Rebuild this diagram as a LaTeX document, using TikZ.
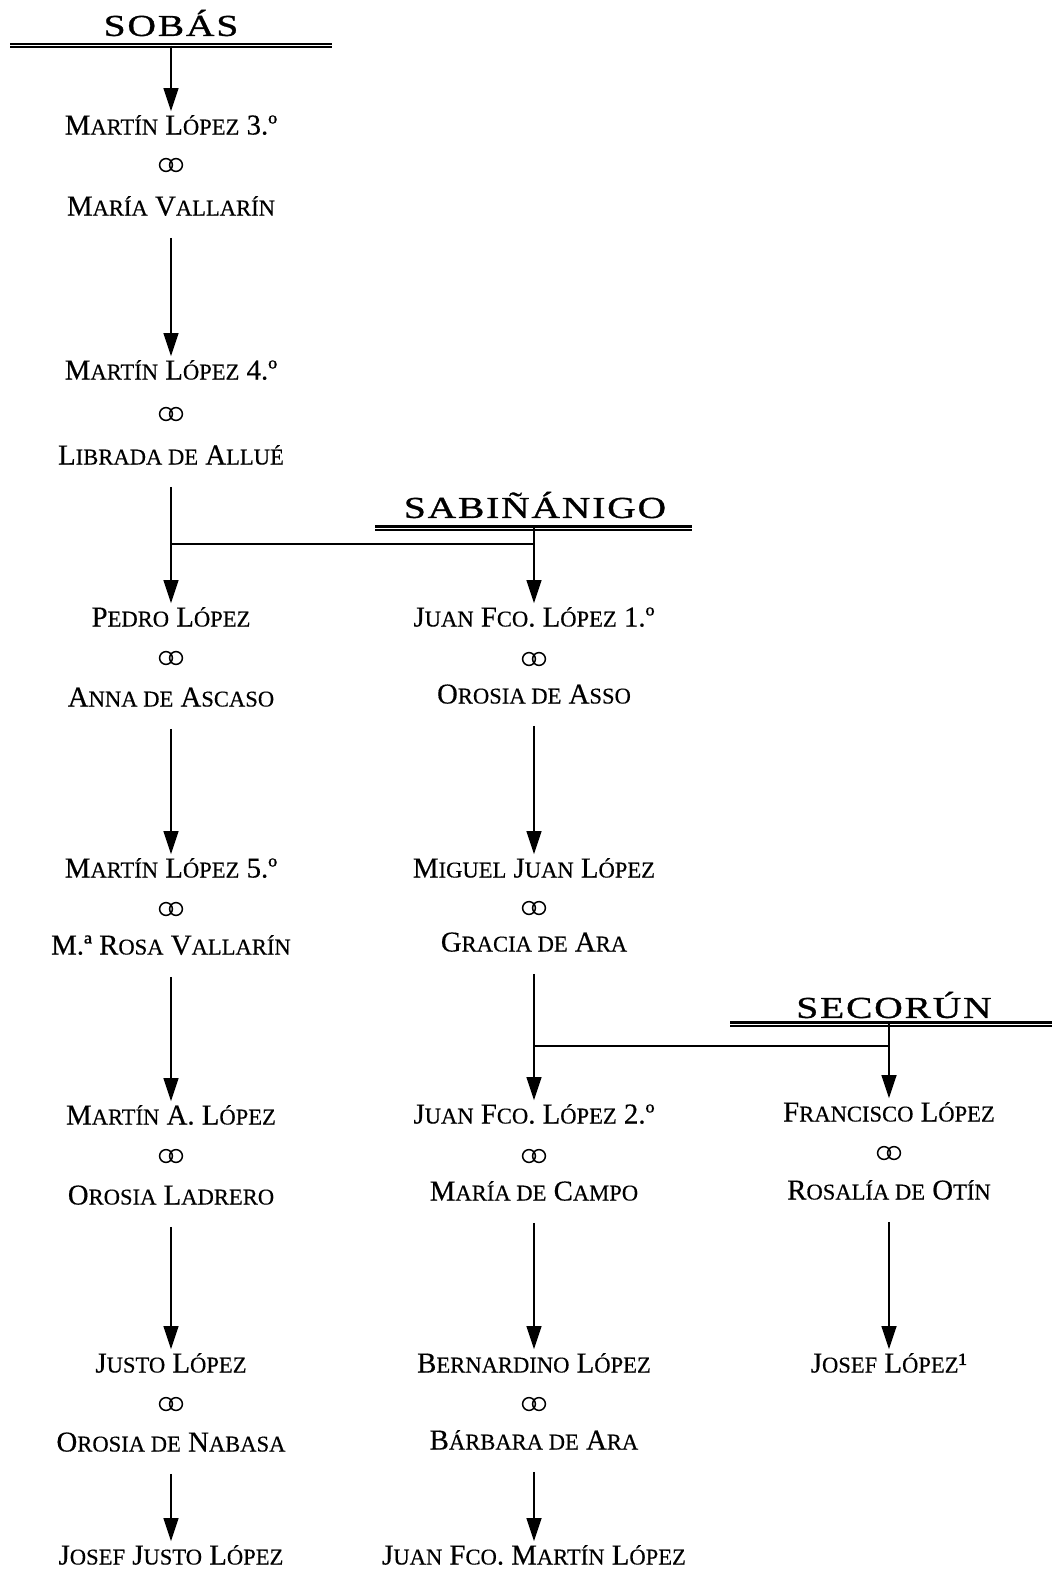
\documentclass[tikz,border=0pt]{standalone}
\usepackage{fontspec}
\setmainfont[FakeBold=0.4]{Liberation Serif}
\newfontfamily\hdrfont[FakeStretch=1.3,LetterSpace=6,FakeBold=1]{Liberation Serif}
\usetikzlibrary{arrows.meta}
\newcommand\sk[1]{{\fontsize{11.3pt}{11.3pt}\selectfont #1}}
\begin{document}
\begin{tikzpicture}[x=0.5pt,y=-0.5pt,
  person/.style={font=\fontsize{14.4pt}{14.4pt}\selectfont, inner sep=1pt, text height=9.5pt, text depth=0pt},
  hdr/.style={font=\hdrfont\fontsize{15.2pt}{15.2pt}\selectfont, inner sep=0pt},
  hline/.style={double, line width=1.25pt, double distance=0.2pt},
  arr/.style={-{Triangle[length=11.5pt,width=7.5pt]}, line width=0.75pt, shorten <=10pt, shorten >=1pt},
  link/.style={line width=0.75pt},
  rings/.pic={\draw[line width=0.75pt] (-2.5pt,0) circle[radius=3.2pt] (2.5pt,0) circle[radius=3.2pt];}]
\useasboundingbox (0,0) rectangle (1052,1575);
% headers
\node[hdr] (sobas) at (171,23) {SOBÁS};
\draw[hline] (10,45.5) -- (332,45.5);
\coordinate (h1) at (171,45.5);
\node[hdr] (sab) at (535,505) {SABIÑÁNIGO};
\draw[hline] (375,528) -- (692,528);
\coordinate (h2) at (534,528);
\node[hdr] (sec) at (894,1005) {SECORÚN};
\draw[hline] (730,1024) -- (1052,1024);
\coordinate (h3) at (889,1024);
% column 1
\node[person] (m3) at (171,125) {M\sk{ARTÍN} L\sk{ÓPEZ} 3.º};
\pic at (171,165) {rings};
\node[person] (mv) at (171,206) {M\sk{ARÍA} V\sk{ALLARÍN}};
\node[person] (m4) at (171,370) {M\sk{ARTÍN} L\sk{ÓPEZ} 4.º};
\pic at (171,414) {rings};
\node[person] (la) at (171,455) {L\sk{IBRADA DE} A\sk{LLUÉ}};
\node[person] (pe) at (171,617) {P\sk{EDRO} L\sk{ÓPEZ}};
\pic at (171,658) {rings};
\node[person] (an) at (171,697) {A\sk{NNA DE} A\sk{SCASO}};
\node[person] (m5) at (171,868) {M\sk{ARTÍN} L\sk{ÓPEZ} 5.º};
\pic at (171,909) {rings};
\node[person] (mr) at (171,945) {M.ª R\sk{OSA} V\sk{ALLARÍN}};
\node[person] (ma) at (171,1115) {M\sk{ARTÍN} A. L\sk{ÓPEZ}};
\pic at (171,1156) {rings};
\node[person] (ol) at (171,1195) {O\sk{ROSIA} L\sk{ADRERO}};
\node[person] (ju) at (171,1363) {J\sk{USTO} L\sk{ÓPEZ}};
\pic at (171,1404) {rings};
\node[person] (on) at (171,1442) {O\sk{ROSIA DE} N\sk{ABASA}};
\node[person] (jj) at (171,1555) {J\sk{OSEF} J\sk{USTO} L\sk{ÓPEZ}};
% column 2
\node[person] (jf1) at (534,617) {J\sk{UAN} F\sk{CO}. L\sk{ÓPEZ} 1.º};
\pic at (534,659) {rings};
\node[person] (oa) at (534,694) {O\sk{ROSIA DE} A\sk{SSO}};
\node[person] (mj) at (534,868) {M\sk{IGUEL} J\sk{UAN} L\sk{ÓPEZ}};
\pic at (534,908) {rings};
\node[person] (ga) at (534,942) {G\sk{RACIA DE} A\sk{RA}};
\node[person] (jf2) at (534,1114) {J\sk{UAN} F\sk{CO}. L\sk{ÓPEZ} 2.º};
\pic at (534,1156) {rings};
\node[person] (mc) at (534,1191) {M\sk{ARÍA DE} C\sk{AMPO}};
\node[person] (be) at (534,1363) {B\sk{ERNARDINO} L\sk{ÓPEZ}};
\pic at (534,1404) {rings};
\node[person] (ba) at (534,1440) {B\sk{ÁRBARA DE} A\sk{RA}};
\node[person] (jm) at (534,1555) {J\sk{UAN} F\sk{CO}. M\sk{ARTÍN} L\sk{ÓPEZ}};
% column 3
\node[person] (fr) at (889,1112) {F\sk{RANCISCO} L\sk{ÓPEZ}};
\pic at (889,1153) {rings};
\node[person] (ro) at (889,1190) {R\sk{OSALÍA DE} O\sk{TÍN}};
\node[person] (jl) at (889,1363) {J\sk{OSEF} L\sk{ÓPEZ}¹};
% junctions
\coordinate (b1) at (171,544);
\coordinate (b2) at (534,544);
\coordinate (c1) at (534,1046);
\coordinate (c2) at (889,1046);
% connectors
\draw[arr, shorten <=0pt] (h1) -- (m3);
\draw[arr] (mv) -- (m4);
\draw[arr] (la) -- (pe);
\draw[arr] (an) -- (m5);
\draw[arr] (mr) -- (ma);
\draw[arr] (ol) -- (ju);
\draw[arr] (on) -- (jj);
\draw[arr, shorten <=0pt] (h2) -- (jf1);
\draw[link] (b1) -- (b2);
\draw[arr] (oa) -- (mj);
\draw[arr] (ga) -- (jf2);
\draw[arr] (mc) -- (be);
\draw[arr] (ba) -- (jm);
\draw[arr, shorten <=0pt] (h3) -- (fr);
\draw[link] (c1) -- (c2);
\draw[arr] (ro) -- (jl);
\end{tikzpicture}
\end{document}
